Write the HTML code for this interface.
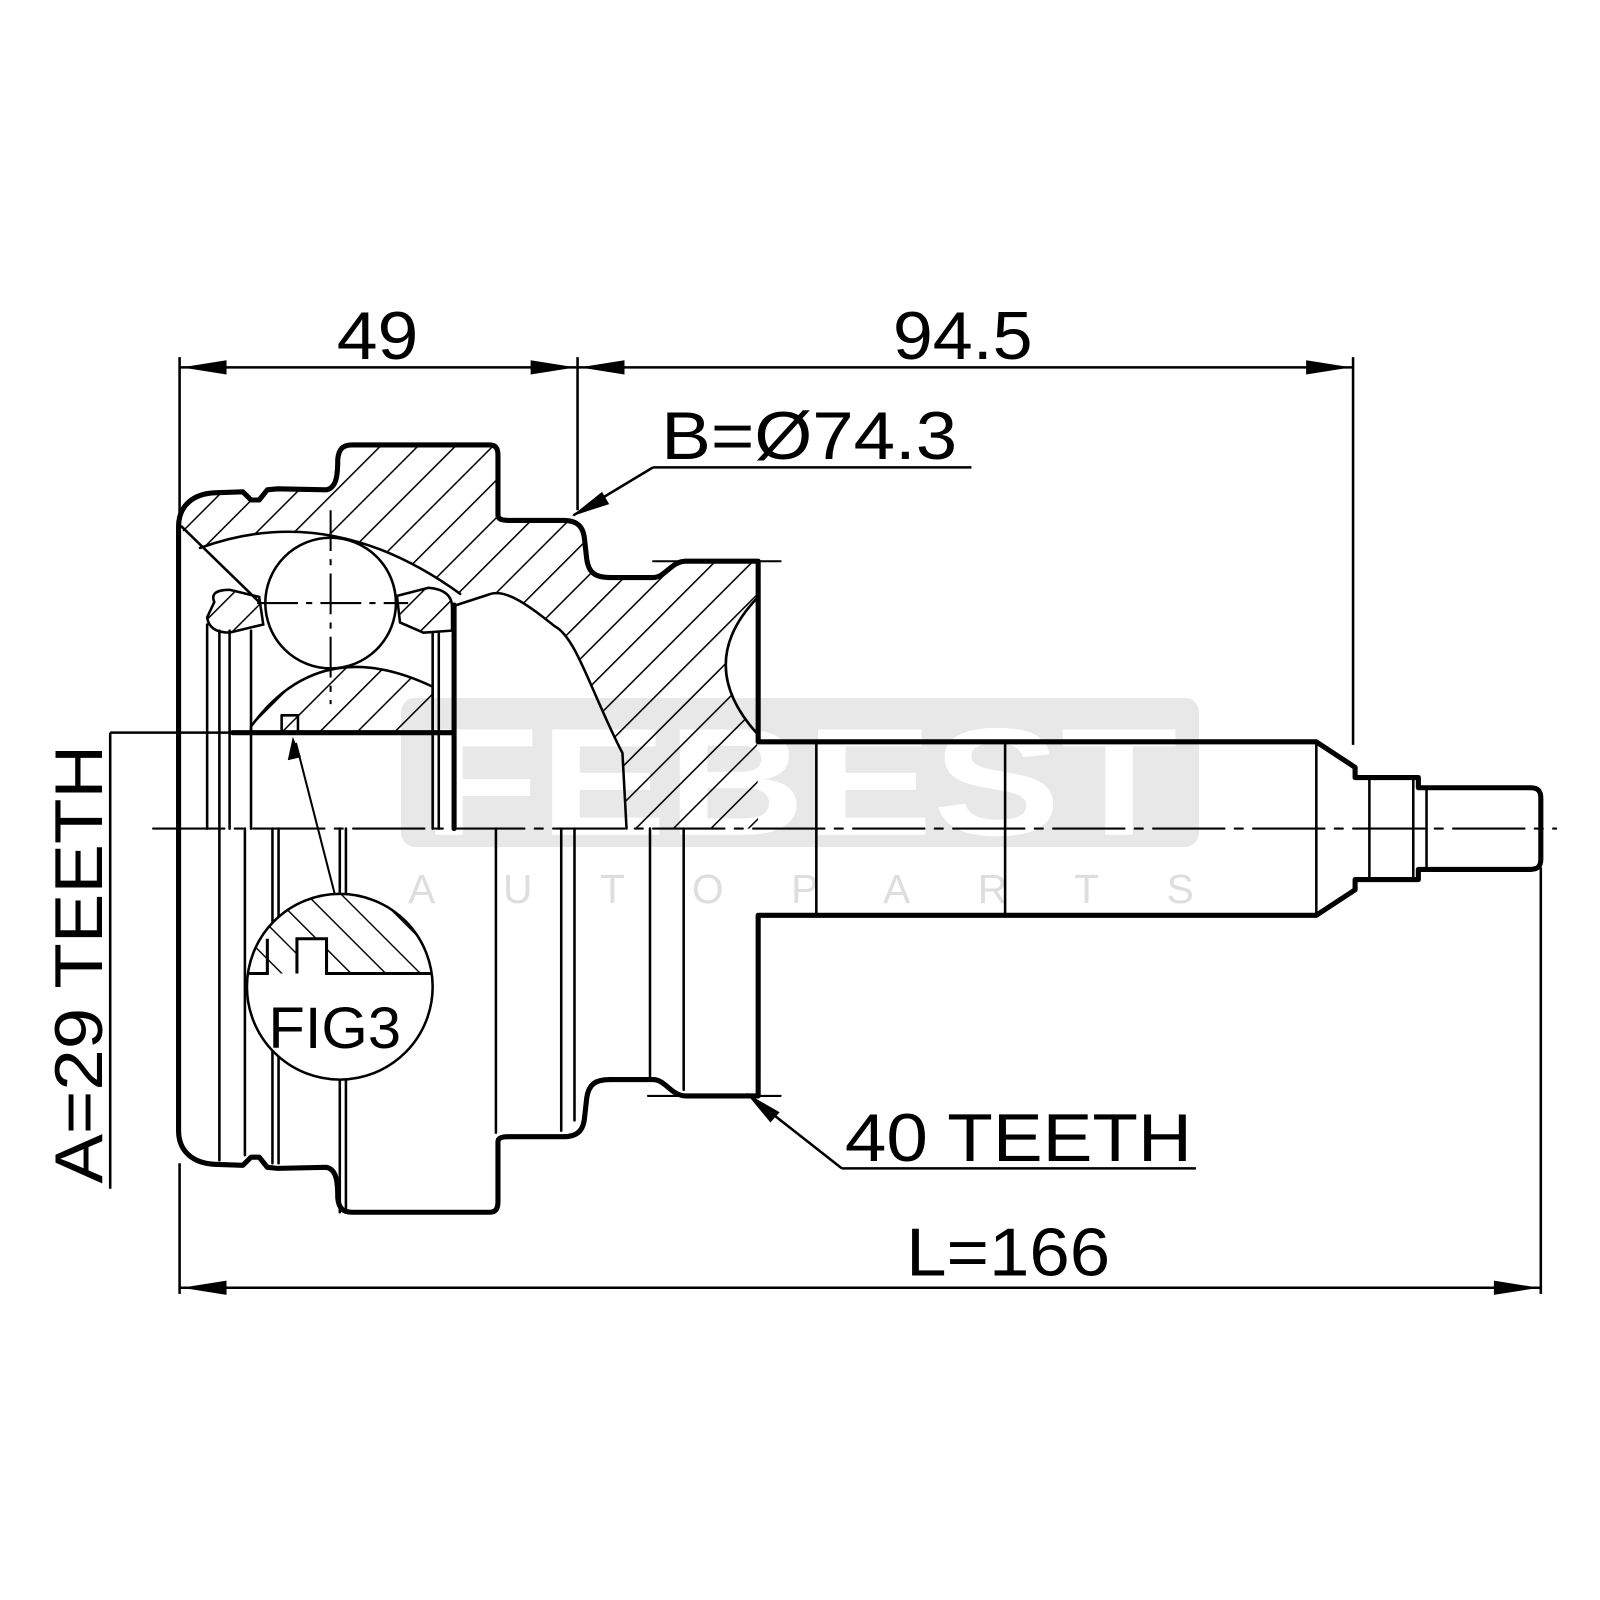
<!DOCTYPE html>
<html><head><meta charset="utf-8"><style>html,body{margin:0;padding:0;background:#fff}svg{display:block}</style></head>
<body>
<svg width="1600" height="1600" viewBox="0 0 1568 1568" xmlns="http://www.w3.org/2000/svg" font-family="Liberation Sans, Arial, sans-serif">
<defs>
<pattern id="h" patternUnits="userSpaceOnUse" width="26" height="26" patternTransform="rotate(45)">
<line x1="0" y1="0" x2="0" y2="26" stroke="#000" stroke-width="3"/>
</pattern>
<pattern id="h2" patternUnits="userSpaceOnUse" width="24" height="24" patternTransform="rotate(-45)">
<line x1="0" y1="0" x2="0" y2="24" stroke="#000" stroke-width="2.8"/>
</pattern>
<path id="outl" d="M175,812 L175,516 C175,495 190,484 210,483 L238,482 L246,490 L254,490 L262,480 L272,479 L320,480 C330,478 331,465 331,450 C332,440 336,436 345,436 L480,436 C486,436 488,440 488,446 L488,505 C488,509 492,510 498,510 L552,510 C566,510 572,516 573,530 L575,548 C577,562 584,566 598,566 L640,566 C652,566 658,550 672,550 L743,550 L743,727 L1290,727 L1328,752 L1328,762 L1390,762 L1390,772 L1500,772 C1508,772 1510,776 1510,782 L1510,812"/>
</defs>

<rect x="393" y="684" width="782" height="146" rx="14" fill="#e8e8e8"/>
<text x="784" y="818" font-size="150" font-weight="bold" fill="#fff" text-anchor="middle" textLength="740" lengthAdjust="spacingAndGlyphs">FEBEST</text>
<text x="785" y="885" font-size="40" fill="#dedede" text-anchor="middle" textLength="770" lengthAdjust="spacing">AUTOPARTS</text>

<path fill="url(#h)" d="M175,516 C175,495 190,484 210,483 L238,482 L246,490 L254,490 L262,480 L272,479 L320,480 C330,478 331,465 331,450 C332,440 336,436 345,436 L480,436 C486,436 488,440 488,446 L488,505 C488,509 492,510 498,510 L552,510 C566,510 572,516 573,530 L575,548 C577,562 584,566 598,566 L640,566 C652,566 658,550 672,550 L743,550 L743,585 Q680,650 742,719 L743,812 L614,812 L610,738 C580,680 565,625 544,614 C520,595 495,575 478,583 L447,593 L451,582 Q324,490 196,537 Z"/>
<path fill="url(#h)" stroke="#000" stroke-width="2.5" d="M246,718 L246,712 Q313,620 424,673 L424,718 Z"/>
<path fill="url(#h)" stroke="#000" stroke-width="2.5" d="M210,590 Q205,578 225,578 L254,585 L258,612 L225,620 Q205,620 203,605 Z"/>
<path fill="url(#h)" stroke="#000" stroke-width="2.5" d="M389,584 L420,576 Q443,578 443,595 L443,618 L415,620 L392,610 Z"/>

<g fill="none" stroke="#000" stroke-linecap="round" stroke-linejoin="round">
<use href="#outl" stroke-width="5"/>
<use href="#outl" stroke-width="5" transform="matrix(1,0,0,-1,0,1624)"/>
<path d="M451,582 Q324,490 196,537" stroke-width="2.5"/>
<path d="M178,516 L254,590" stroke-width="2.5"/>
<path d="M743,585 Q680,650 742,719" stroke-width="2.5"/>
<path d="M447,593 L478,583 C495,575 520,595 544,614 C565,625 580,680 610,738 L614,812" stroke-width="2.5"/>
<path d="M445,593 L445,812" stroke-width="5"/>
<path d="M228,718 L442,718" stroke-width="5"/>
<path d="M203,612 V812 M215,618 V812 M225,618 V812 M246,618 V812 M424,621 V812 M430,621 V812" stroke-width="2.5"/>
<path d="M276,718 V701 H292 V718" stroke-width="2.5"/>
<path d="M215,812 V1137 M240,812 V1132 M267,812 V1140 M273,812 V1140 M333,812 V1188 M339,812 V1188 M486,812 V1110 M550,812 V1108 M563,812 V1098 M637,812 V1058 M670,812 V1068" stroke-width="2.5"/>
<path d="M800,727 V897 M985,727 V897 M1290,727 V897 M1342,762 V862 M1385,762 V862 M1398,772 V852" stroke-width="2.5"/>
<path d="M640,550 H765 M635,1074 H765" stroke-width="2"/>
<path d="M150,812 H1525" stroke-width="2" stroke-dasharray="70,10,8,10"/>
</g>

<circle cx="324" cy="591" r="64" fill="#fff" stroke="#000" stroke-width="2.5"/>
<path d="M324,500 V690 M252,591 H400" stroke="#000" stroke-width="2" stroke-dasharray="40,8,6,8" fill="none"/>

<circle cx="333" cy="967" r="91" fill="#fff"/>
<clipPath id="fc"><circle cx="333" cy="967" r="91"/></clipPath>
<path clip-path="url(#fc)" fill="url(#h2)" d="M240,870 H430 V954 H320 V920 H291 V954 H240 Z"/>
<path clip-path="url(#fc)" fill="none" stroke="#000" stroke-width="3" d="M230,954 H262 V920 M291,954 V920 H320 V954 H430"/>
<circle cx="333" cy="967" r="91" fill="none" stroke="#000" stroke-width="2.5"/>
<text x="263" y="1027" font-size="57" textLength="130" lengthAdjust="spacingAndGlyphs">FIG3</text>
<path d="M290,728 L328,876" stroke="#000" stroke-width="2"/>
<path d="M287,722 L282,745 L295,742 Z" fill="#000"/>

<g stroke="#000" stroke-width="2.5" fill="none">
<path d="M176,350 V515 M566,350 V500 M1326,350 V730 M176,1140 V1268 M1510,850 V1268"/>
<path d="M176,360 H1326 M176,1262 H1510"/>
<path d="M108,718 V1165 M108,718 H250"/>
<path d="M640,458 H952 M640,458 L562,505"/>
<path d="M825,1145 H1172 M825,1145 L732,1072"/>
</g>
<g fill="#000">
<path d="M178,360 L222,353 L222,367 Z"/>
<path d="M564,360 L520,353 L520,367 Z"/>
<path d="M568,360 L612,353 L612,367 Z"/>
<path d="M1324,360 L1280,353 L1280,367 Z"/>
<path d="M178,1262 L222,1255 L222,1269 Z"/>
<path d="M1508,1262 L1464,1255 L1464,1269 Z"/>
<path d="M560,506 L590,482 L597,494 Z"/>
<path d="M731,1071 L755,1100 L764,1090 Z"/>
</g>
<g font-size="66" fill="#000">
<text x="330" y="352" textLength="80" lengthAdjust="spacingAndGlyphs">49</text>
<text x="875" y="352" textLength="137" lengthAdjust="spacingAndGlyphs">94.5</text>
<text x="648" y="450" textLength="290" lengthAdjust="spacingAndGlyphs">B=Ø74.3</text>
<text x="828" y="1138" textLength="340" lengthAdjust="spacingAndGlyphs">40 TEETH</text>
<text x="888" y="1250" textLength="200" lengthAdjust="spacingAndGlyphs">L=166</text>
<text transform="translate(100,1160) rotate(-90)" x="0" y="0" textLength="430" lengthAdjust="spacingAndGlyphs">A=29 TEETH</text>
</g>
</svg>
</body></html>
